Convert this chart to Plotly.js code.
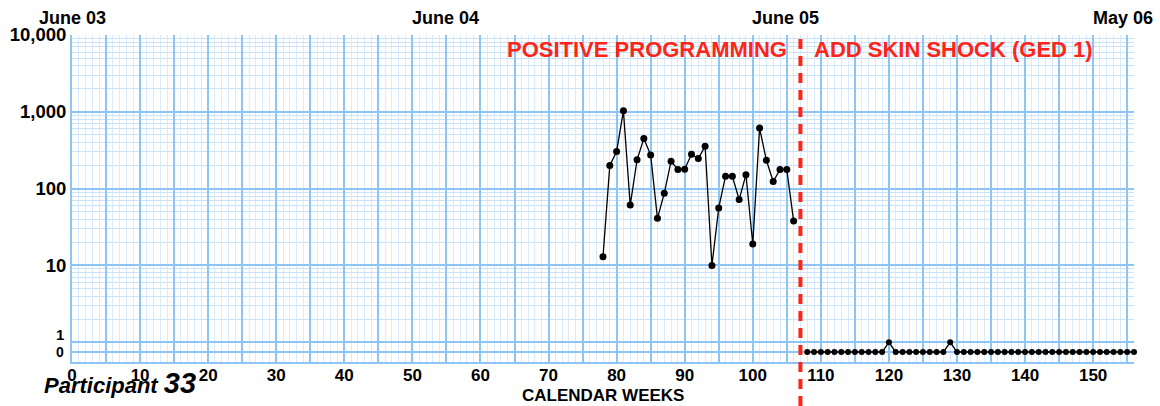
<!DOCTYPE html>
<html>
<head>
<meta charset="utf-8">
<script src="https://cdn.plot.ly/plotly-3.0.1.min.js"></script>
<style>
  html, body { margin: 0; padding: 0; background: #ffffff; }
  #chart { width: 1160px; height: 406px; }
</style>
</head>
<body>
<div id="chart"></div>
<script>
// ---- Data ----
const baselineWeeks = [78,79,80,81,82,83,84,85,86,87,88,89,90,91,92,93,94,95,96,97,98,99,100,101,102,103,104,105,106];
const baselineCounts = [13,200,305,1030,61,237,450,275,41,87,228,177,179,281,247,357,10,56,145,145,72,152,19,614,234,124,177,177,38];

const shockWeeks = [108,109,110,111,112,113,114,115,116,117,118,119,120,121,122,123,124,125,126,127,128,129,130,131,132,133,134,135,136,137,138,139,140,141,142,143,144,145,146,147,148,149,150,151,152,153,154,155,156];
const shockCounts = [0,0,0,0,0,0,0,0,0,0,0,0,1,0,0,0,0,0,0,0,0,1,0,0,0,0,0,0,0,0,0,0,0,0,0,0,0,0,0,0,0,0,0,0,0,0,0,0,0];

const phaseChangeWeek = 107;
const phaseLabels = ["POSITIVE PROGRAMMING", "ADD SKIN SHOCK (GED 1)"];

const xTickLabels = [0,10,20,30,40,50,60,70,80,90,100,110,120,130,140,150];
const dateTickWeeks = [0, 54.8, 104.8, 154.4];
const dateTickLabels = ["June 03", "June 04", "June 05", "May 06"];

const yTickValues = [10, 100, 1000, 10000];
const yTickLabels = ["10", "100", "1,000", "10,000"];

const participantLabel = "Participant";
const participantNumber = "33";
const xTitle = "CALENDAR WEEKS";

// ---- Display helpers (chart conventions, not data) ----
const ZERO_ROW = Math.pow(10, -0.127);   // where a count of 0 is drawn, below the "1" line
const toPlot = v => (v === 0 ? ZERO_ROW : v);

const MAJOR = '#8ec5f7';
const MINOR_X = '#d9ebfc';
const MINOR_Y = '#cbe3f9';
const FONT = 'Liberation Sans, Arial, sans-serif';
const RED = '#ff2419';

// grid helper values
const majorX = []; for (let w = 0; w <= 155; w += 5) majorX.push(w);
const majorXText = majorX.map(w => (xTickLabels.indexOf(w) >= 0 ? String(w) : ''));
const minorY = [];
[1, 10, 100, 1000].forEach(d => { for (let k = 2; k <= 9; k++) minorY.push(d * k); });

const traces = [
  {
    x: baselineWeeks, y: baselineCounts.map(toPlot),
    type: 'scatter', mode: 'lines+markers',
    line: { color: '#000000', width: 1.3 },
    marker: { color: '#000000', size: 7 },
    cliponaxis: false, hoverinfo: 'x+y', showlegend: false
  },
  {
    x: shockWeeks, y: shockCounts.map(toPlot),
    type: 'scatter', mode: 'lines+markers',
    line: { color: '#000000', width: 1.3 },
    marker: { color: '#000000', size: 6 },
    cliponaxis: false, hoverinfo: 'x+y', showlegend: false
  }
];

const annotations = [
  {
    xref: 'x', yref: 'paper', x: phaseChangeWeek, y: 0.957,
    xanchor: 'right', yanchor: 'middle', xshift: -11,
    text: phaseLabels[0], showarrow: false,
    font: { family: FONT, size: 22, weight: 700, color: RED }
  },
  {
    xref: 'x', yref: 'paper', x: phaseChangeWeek, y: 0.957,
    xanchor: 'left', yanchor: 'middle', xshift: 12,
    text: phaseLabels[1], showarrow: false,
    font: { family: FONT, size: 22, weight: 700, color: RED }
  },
  {
    xref: 'paper', yref: 'y', x: 0, y: 0, xanchor: 'right', yanchor: 'middle',
    xshift: -6, yshift: 8,
    text: '1', showarrow: false,
    font: { family: FONT, size: 15, weight: 700, color: '#000' }
  },
  {
    xref: 'paper', yref: 'y', x: 0, y: Math.log10(ZERO_ROW), xanchor: 'right', yanchor: 'middle',
    xshift: -6,
    text: '0', showarrow: false,
    font: { family: FONT, size: 14, weight: 700, color: '#000' }
  },
  {
    xref: 'paper', yref: 'paper', x: 0.5, y: -33 / 327,
    xanchor: 'center', yanchor: 'middle',
    text: xTitle, showarrow: false,
    font: { family: FONT, size: 17, weight: 700, color: '#000' }
  },
  {
    xref: 'paper', yref: 'paper', x: -30 / 1062, y: -21 / 327,
    xanchor: 'left', yanchor: 'middle',
    text: '<i>' + participantLabel + ' <span style="font-size:29px">' + participantNumber + '</span></i>',
    showarrow: false,
    font: { family: FONT, size: 22, weight: 700, color: '#000' }
  }
];
dateTickWeeks.forEach((w, i) => {
  annotations.push({
    xref: 'x', yref: 'paper', x: w, y: 1, xanchor: 'center', yanchor: 'middle', yshift: 17,
    text: dateTickLabels[i], showarrow: false,
    font: { family: FONT, size: 18, weight: 700, color: '#000' }
  });
});

const layout = {
  width: 1160, height: 406,
  margin: { l: 72, r: 26, t: 35, b: 44 },
  paper_bgcolor: '#ffffff', plot_bgcolor: '#ffffff',
  font: { family: FONT, color: '#000000' },
  showlegend: false,
  xaxis: {
    range: [0, 156], fixedrange: true,
    tickmode: 'array', tickvals: majorX, ticktext: majorXText,
    ticks: '', showgrid: true, gridcolor: MAJOR, gridwidth: 2,
    zeroline: false,
    showline: true, linecolor: MAJOR, linewidth: 2,
    tickfont: { family: FONT, size: 17, weight: 700, color: '#000' },
    ticklabelstandoff: -3,
    minor: { tickmode: 'linear', tick0: 0, dtick: 1, showgrid: true, gridcolor: MINOR_X, gridwidth: 1, ticks: '' },
    automargin: false
  },
  yaxis: {
    type: 'log', range: [-0.257, 4], fixedrange: true,
    tickmode: 'array', tickvals: [ZERO_ROW, 1].concat(yTickValues), ticktext: ['', ''].concat(yTickLabels),
    ticks: '', showgrid: true, gridcolor: MAJOR, gridwidth: 2,
    zeroline: false,
    showline: true, linecolor: MAJOR, linewidth: 2,
    tickfont: { family: FONT, size: 18.5, weight: 700, color: '#000' },
    ticklabelstandoff: 0,
    minor: { tickmode: 'array', tickvals: minorY, showgrid: true, gridcolor: MINOR_Y, gridwidth: 1, ticks: '' },
    automargin: false
  },
  shapes: [
    {
      type: 'line', xref: 'x', yref: 'paper',
      x0: phaseChangeWeek, x1: phaseChangeWeek, y0: -44 / 327, y1: 1,
      line: { color: RED, width: 4, dash: '10px,7px' }
    }
  ],
  annotations: annotations
};

Plotly.newPlot('chart', traces, layout, { staticPlot: true, displayModeBar: false });
</script>
</body>
</html>
